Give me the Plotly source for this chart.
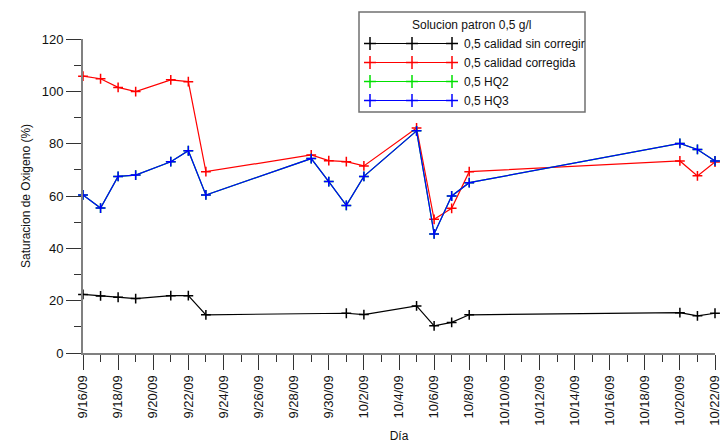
import plotly.graph_objects as go

# ---------------- data ----------------
dates_black = ["2009-09-16", "2009-09-17", "2009-09-18", "2009-09-19", "2009-09-21",
               "2009-09-22", "2009-09-23", "2009-10-01", "2009-10-02", "2009-10-05",
               "2009-10-06", "2009-10-07", "2009-10-08", "2009-10-20", "2009-10-21",
               "2009-10-22"]
sin_corregir = [22.4, 21.8, 21.3, 20.8, 21.9, 21.9, 14.6, 15.2, 14.7, 18.0,
                10.4, 11.7, 14.6, 15.4, 14.2, 15.2]

dates_all = ["2009-09-16", "2009-09-17", "2009-09-18", "2009-09-19", "2009-09-21",
             "2009-09-22", "2009-09-23", "2009-09-29", "2009-09-30", "2009-10-01",
             "2009-10-02", "2009-10-05", "2009-10-06", "2009-10-07", "2009-10-08",
             "2009-10-20", "2009-10-21", "2009-10-22"]
corregida = [105.8, 104.8, 101.5, 99.9, 104.4, 103.7, 69.3, 75.7, 73.5, 73.1,
             71.5, 86.0, 51.1, 55.3, 69.3, 73.4, 67.7, 73.0]
hq2 = [60.4, 55.4, 67.5, 68.0, 73.1, 77.3, 60.4, 74.3, 65.5, 56.4,
       67.5, 84.9, 45.5, 60.0, 65.1, 80.1, 77.8, 73.4]
hq3 = [60.4, 55.4, 67.5, 68.0, 73.1, 77.3, 60.4, 74.3, 65.5, 56.4,
       67.5, 84.9, 45.5, 60.0, 65.1, 80.1, 77.8, 73.4]

series_names = ["0,5 calidad sin corregir", "0,5 calidad corregida", "0,5 HQ2", "0,5 HQ3"]
series_colors = ["#000000", "#ff0000", "#00e000", "#0000ff"]
legend_title = "Solucion patron 0,5 g/l"

# ---------------- layout geometry (pixels) ----------------
W, H = 724, 443
L, R, T, B = 83, 715, 39, 353

def pxx(x):
    return (x - L) / (R - L)

def pxy(y):
    return (B - y) / (B - T)

FONT = "Liberation Sans, Arial, sans-serif"

fig = go.Figure()
series = [
    (series_names[0], dates_black, sin_corregir, series_colors[0]),
    (series_names[1], dates_all, corregida, series_colors[1]),
    (series_names[2], dates_all, hq2, series_colors[2]),
    (series_names[3], dates_all, hq3, series_colors[3]),
]
for name, xs, ys, col in series:
    fig.add_trace(go.Scatter(
        x=xs, y=ys, name=name, mode="lines+markers",
        line=dict(color=col, width=1.2),
        marker=dict(symbol="cross-thin", size=7, color=col,
                    line=dict(color=col, width=1.5)),
        cliponaxis=False, showlegend=False))

# ---------------- custom legend ----------------
shapes = []
annotations = []
box = dict(x0=359, x1=585, y0=12, y1=112)
shapes.append(dict(type="rect", xref="paper", yref="paper",
                   x0=pxx(box["x0"]), x1=pxx(box["x1"]),
                   y0=pxy(box["y0"]), y1=pxy(box["y1"]),
                   line=dict(color="#707070", width=1.5), fillcolor="white", layer="above"))
annotations.append(dict(xref="paper", yref="paper", x=pxx(472), y=pxy(25),
                        text=legend_title, showarrow=False, xanchor="center",
                        yanchor="middle", font=dict(family=FONT, size=12, color="#111")))
row_y = [43.5, 62.5, 81.5, 100.5]
for i, (name, col) in enumerate(zip(series_names, series_colors)):
    yy = row_y[i]
    shapes.append(dict(type="line", xref="paper", yref="paper",
                       x0=pxx(367), x1=pxx(455), y0=pxy(yy), y1=pxy(yy),
                       line=dict(color=col, width=1.2), layer="above"))
    for cx in (370, 412, 452):
        shapes.append(dict(type="line", xref="paper", yref="paper",
                           x0=pxx(cx), x1=pxx(cx), y0=pxy(yy - 6.5), y1=pxy(yy + 6.5),
                           line=dict(color=col, width=1.5), layer="above"))
        shapes.append(dict(type="line", xref="paper", yref="paper",
                           x0=pxx(cx - 6), x1=pxx(cx + 6), y0=pxy(yy), y1=pxy(yy),
                           line=dict(color=col, width=1.5), layer="above"))
    annotations.append(dict(xref="paper", yref="paper", x=pxx(462), y=pxy(yy),
                            text=name, showarrow=False, xanchor="left",
                            yanchor="middle", font=dict(family=FONT, size=12, color="#111")))

fig.update_layout(
    width=W, height=H,
    margin=dict(l=L, r=W - R, t=T, b=H - B, pad=0),
    paper_bgcolor="white", plot_bgcolor="white",
    font=dict(family=FONT, size=12, color="#111"),
    shapes=shapes, annotations=annotations,
    showlegend=False,
)
fig.update_xaxes(
    type="date", range=["2009-09-16", "2009-10-22"],
    tick0="2009-09-16", dtick=2 * 86400000, tickformat="%-m/%-d/%y",
    tickangle=-90, tickfont=dict(family=FONT, size=13, color="#111"),
    ticks="outside", ticklen=15, tickwidth=1, tickcolor="#333",
    minor=dict(ticks="outside", ticklen=7, dtick=86400000, tickwidth=1, tickcolor="#333"),
    showline=True, linecolor="#808080", linewidth=2,
    showgrid=False, zeroline=False,
    title=dict(text="Día", font=dict(family=FONT, size=12, color="#111"), standoff=8),
    automargin=False,
)
fig.update_yaxes(
    range=[0, 120], dtick=20, tick0=0,
    tickfont=dict(family=FONT, size=13, color="#111"),
    ticks="outside", ticklen=15, tickwidth=1, tickcolor="#333",
    minor=dict(ticks="outside", ticklen=7, dtick=10, tickwidth=1, tickcolor="#333"),
    showline=True, linecolor="#808080", linewidth=2,
    showgrid=False, zeroline=False,
    title=dict(text="Saturacion de Oxigeno (%)", font=dict(family=FONT, size=12, color="#111"), standoff=8),
    automargin=False,
)

fig.write_html("out.html")
